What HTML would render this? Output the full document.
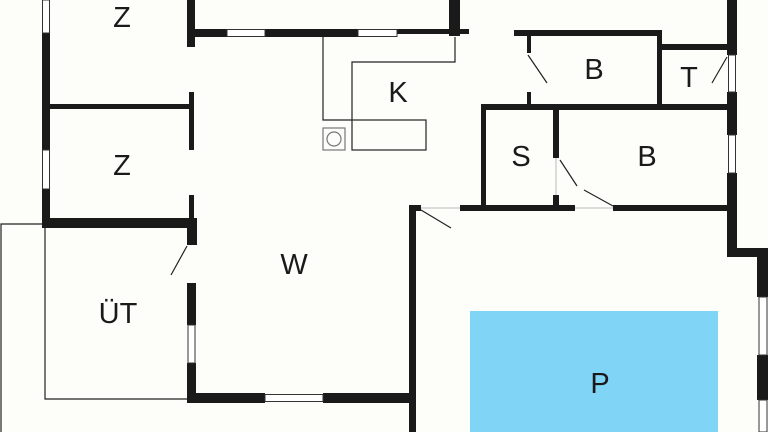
<!DOCTYPE html>
<html><head><meta charset="utf-8"><style>
html,body{margin:0;padding:0;background:#fdfdf9;}
svg{display:block}
text{font-family:"Liberation Sans",sans-serif;font-size:29px;fill:#1a1a1a;text-anchor:middle;dominant-baseline:central}
</style></head><body>
<svg width="768" height="432" viewBox="0 0 768 432" xmlns="http://www.w3.org/2000/svg">
<rect width="768" height="432" fill="#fdfdf9"/>
<!-- pool -->
<rect x="470" y="311" width="248" height="121" fill="#80d4f6"/>
<!-- thin lines -->
<g stroke="#222" stroke-width="1.2" fill="none">
<polyline points="1,432 1,224 42,224"/>
<polyline points="45,226 45,399 187,399"/>
<polyline points="323,37 323,120 352,120"/>
<polyline points="352,120 352,62 455,62 455,37"/>
<rect x="352" y="120" width="74" height="30"/>
<rect x="323" y="128" width="22" height="22" stroke="#777"/>
<circle cx="334" cy="139" r="7" stroke="#777"/>
<line x1="187" y1="246" x2="171" y2="275"/>
<line x1="528" y1="55" x2="547" y2="83"/>
<line x1="727" y1="57" x2="712" y2="83"/>
<line x1="560" y1="160" x2="577" y2="186"/>
<line x1="584" y1="190" x2="613" y2="206"/>
<line x1="421" y1="210" x2="451" y2="228"/>
</g>
<!-- walls -->
<g fill="#1a1a1a">
<rect x="42" y="33" width="8" height="117"/>
<rect x="42" y="189" width="8" height="38"/>
<rect x="187" y="0" width="8" height="47"/>
<rect x="187" y="29" width="40" height="8"/>
<rect x="265" y="29" width="93" height="8"/>
<rect x="397" y="29" width="72" height="5"/>
<rect x="449" y="0" width="11" height="36"/>
<rect x="45" y="104" width="147" height="5"/>
<rect x="189" y="92" width="5" height="58"/>
<rect x="189" y="195" width="5" height="25"/>
<rect x="42" y="218" width="155" height="10"/>
<rect x="187" y="218" width="10" height="27"/>
<rect x="187" y="283" width="9" height="42"/>
<rect x="187" y="363" width="9" height="40"/>
<rect x="187" y="393" width="78" height="10"/>
<rect x="323" y="393" width="93" height="10"/>
<rect x="409" y="205" width="7" height="227"/>
<rect x="409" y="205" width="12" height="6"/>
<rect x="460" y="205" width="115" height="6"/>
<rect x="613" y="205" width="117" height="6"/>
<rect x="514" y="30" width="148" height="6"/>
<rect x="657" y="30" width="5" height="74"/>
<rect x="527" y="33" width="4" height="20"/>
<rect x="527" y="92" width="4" height="14"/>
<rect x="662" y="44" width="68" height="6"/>
<rect x="727" y="0" width="10" height="55"/>
<rect x="727" y="92" width="10" height="43"/>
<rect x="727" y="173" width="10" height="84"/>
<rect x="727" y="248" width="41" height="9"/>
<rect x="757" y="248" width="11" height="49"/>
<rect x="757" y="355" width="11" height="45"/>
<rect x="481" y="104" width="249" height="6"/>
<rect x="481" y="104" width="5" height="104"/>
<rect x="553" y="104" width="6" height="54"/>
<rect x="553" y="195" width="6" height="13"/>
</g>
<!-- windows -->
<g fill="#fff" stroke="#333" stroke-width="1">
<rect x="42.5" y="0" width="7" height="33"/>
<rect x="42.5" y="150" width="7" height="39"/>
<rect x="227" y="29.5" width="38" height="7"/>
<rect x="358" y="29.5" width="39" height="7"/>
<rect x="188" y="325" width="7" height="38"/>
<rect x="265" y="394.5" width="58" height="7"/>
<rect x="728.5" y="55" width="7" height="37"/>
<rect x="728.5" y="135" width="7" height="38"/>
<rect x="759" y="297" width="8" height="58"/>
<rect x="759" y="400" width="8" height="32"/>
</g>
<g stroke="#bbb" stroke-width="1">
<line x1="421" y1="208" x2="460" y2="208"/>
<line x1="575" y1="208" x2="613" y2="208"/>
<line x1="556" y1="158" x2="556" y2="195"/>
</g>
<text x="122" y="18">Z</text>
<text x="122" y="166">Z</text>
<text x="118" y="314">ÜT</text>
<text x="294" y="265">W</text>
<text x="398" y="93">K</text>
<text x="594" y="70">B</text>
<text x="689" y="78">T</text>
<text x="521" y="157">S</text>
<text x="647" y="157">B</text>
<text x="600" y="384">P</text>
</svg>
</body></html>
